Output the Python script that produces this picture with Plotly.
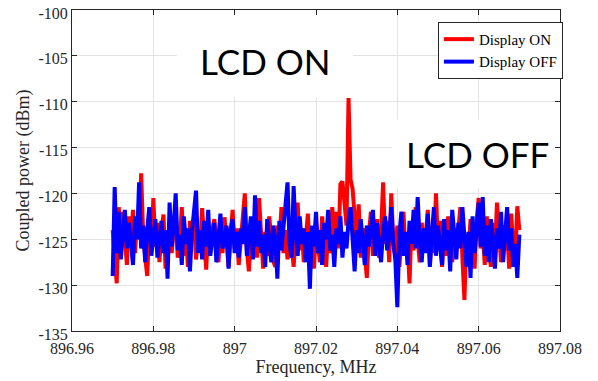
import numpy as np
import plotly.graph_objects as go

freq_start = 896.97
freq_stop = 897.07

display_on = [
    -124.0, -127.5, -129.8, -121.5, -126.0, -122.0, -125.5, -127.8, -122.5, -124.8,
    -121.8, -126.5, -123.0, -125.0, -117.8, -124.5, -127.0, -129.0, -123.5, -126.2,
    -120.5, -125.8, -123.2, -127.5, -124.0, -122.3, -128.2, -125.0, -123.8, -126.5,
    -124.2, -122.0, -127.0, -125.5, -121.5, -126.8, -124.0, -128.0, -123.0, -125.2,
    -122.5, -127.2, -124.8, -126.0, -121.6, -125.0, -128.3, -123.5, -126.2, -124.0,
    -122.8, -125.8, -127.5, -124.2, -126.5, -122.6, -125.3, -128.0, -124.5, -121.8,
    -126.0, -123.8, -127.8, -125.0, -122.0, -120.0, -126.2, -128.5, -124.0, -125.8,
    -123.0, -127.0, -120.5, -125.5, -128.2, -124.2, -126.8, -122.5, -125.0, -127.4,
    -128.0, -123.5, -125.8, -121.5, -126.5, -124.0, -127.2, -122.8, -125.5, -128.0,
    -124.5, -121.0, -126.2, -123.8, -127.5, -125.0, -122.2, -126.8, -124.2, -128.2,
    -123.0, -125.8, -127.5, -122.5, -125.2, -128.0, -123.8, -126.5, -121.5, -124.8,
    -122.0, -126.0, -119.0, -118.7, -121.0, -123.5, -109.6, -118.5, -119.5, -123.0,
    -125.5, -121.2, -127.0, -123.8, -126.0, -129.2, -124.5, -122.0, -126.8, -125.0,
    -122.8, -127.0, -124.2, -118.8, -125.5, -123.0, -127.5, -120.0, -125.0, -126.8,
    -123.5, -128.0, -124.8, -122.0, -126.5, -125.2, -129.8, -123.0, -126.2, -121.5,
    -125.0, -127.5, -123.2, -126.0, -124.5, -121.8, -127.8, -124.0, -126.5, -120.0,
    -125.5, -123.0, -128.0, -124.2, -126.8, -122.5, -125.0, -127.5, -123.8, -126.2,
    -124.0, -121.5, -127.0, -131.6, -124.5, -126.5, -122.8, -125.8, -128.2, -123.0,
    -120.5, -126.0, -124.2, -127.8, -122.5, -125.5, -128.0, -123.2, -126.5, -121.0,
    -125.0, -127.5, -123.5, -126.2, -124.0, -128.2, -122.2, -125.8, -127.0, -121.4,
    -124.0,
]

display_off = [
    -129.0, -119.3, -126.5, -122.0, -127.2, -124.5, -121.8, -126.0, -123.2, -125.5,
    -127.8, -122.5, -125.0, -118.8, -126.0, -123.5, -127.5, -124.0, -121.5, -126.8,
    -124.2, -122.8, -127.0, -125.2, -123.0, -126.5, -124.0, -129.3, -121.0, -125.8,
    -123.5, -120.0, -126.2, -124.5, -127.8, -122.5, -125.5, -123.8, -128.5, -124.2,
    -122.0, -119.7, -126.5, -124.0, -127.2, -123.0, -125.8, -121.8, -126.8, -124.5,
    -123.2, -127.5, -124.8, -122.2, -126.0, -125.2, -123.5, -128.2, -124.0, -122.8,
    -126.5, -124.2, -127.0, -123.8, -125.5, -121.5, -126.8, -124.5, -122.5, -127.2,
    -120.2, -125.8, -123.0, -126.5, -124.5, -128.0, -122.8, -125.2, -127.5, -123.5,
    -125.0, -129.3, -123.0, -126.2, -124.0, -121.2, -118.8, -125.5, -127.0, -119.2,
    -124.5, -126.8, -122.5, -125.5, -123.8, -127.5, -124.2, -130.4, -123.5, -125.8,
    -122.0, -126.5, -124.0, -127.8, -123.2, -125.0, -121.8, -126.2, -124.5, -128.0,
    -123.8, -125.5, -122.5, -127.0, -124.2, -126.0, -123.0, -121.5, -125.8, -128.5,
    -124.0, -126.5, -122.8, -125.2, -127.8, -123.5, -125.8, -124.0, -121.8, -126.8,
    -123.2, -125.5, -127.5, -124.0, -122.5, -126.2, -124.8, -121.5, -125.5, -127.2,
    -132.4, -124.5, -122.0, -126.8, -124.2, -127.8, -123.0, -125.5, -121.8, -126.0,
    -120.4, -125.2, -127.5, -123.8, -126.5, -122.2, -128.0, -124.5, -121.5, -126.8,
    -123.5, -125.8, -127.8, -122.8, -126.2, -124.0, -128.5, -121.8, -125.0, -127.2,
    -123.2, -126.0, -121.5, -125.5, -128.0, -124.2, -129.2, -122.5, -126.5, -124.0,
    -121.0, -125.8, -120.4, -126.8, -123.5, -127.5, -122.8, -125.2, -128.2, -123.8,
    -126.0, -122.0, -127.5, -124.5, -121.5, -126.2, -123.8, -128.0, -125.5, -129.2,
    -124.5,
]

x_tick_vals = [896.96, 896.98, 897.0, 897.02, 897.04, 897.06, 897.08]
x_tick_text = ["896.96", "896.98", "897", "897.02", "897.04", "897.06", "897.08"]
y_tick_vals = [-135, -130, -125, -120, -115, -110, -105, -100]
y_tick_text = ["-135", "-130", "-125", "-120", "-115", "-110", "-105", "-100"]

freqs_on = np.linspace(freq_start, freq_stop, len(display_on))
freqs_off = np.linspace(freq_start, freq_stop, len(display_off))

serif = "Liberation Serif, Times New Roman, serif"
sans = "Lato, Open Sans, sans-serif"

fig = go.Figure()
fig.add_trace(go.Scatter(x=freqs_on, y=display_on, mode="lines", name="Display ON",
                         line=dict(color="#ff0000", width=4)))
fig.add_trace(go.Scatter(x=freqs_off, y=display_off, mode="lines", name="Display OFF",
                         line=dict(color="#0000ff", width=4)))

axis_common = dict(showline=True, linecolor="#262626", linewidth=1, mirror="ticks",
                   ticks="inside", ticklen=5, tickcolor="#262626",
                   showgrid=True, gridcolor="#e3e3e3", gridwidth=1, zeroline=False,
                   automargin=False,
                   tickfont=dict(family=serif, size=16, color="#262626"))

fig.update_layout(
    width=598, height=381,
    margin=dict(l=72, r=38, t=10, b=50, autoexpand=False),
    paper_bgcolor="white", plot_bgcolor="white",
    showlegend=True,
    legend=dict(x=1.006, y=0.963, xanchor="right", yanchor="top",
                bgcolor="white", bordercolor="#262626", borderwidth=1,
                font=dict(family=serif, size=15, color="#000000"),
                tracegroupgap=0, itemwidth=30),
    xaxis=dict(range=[896.96, 897.08], tickvals=x_tick_vals, ticktext=x_tick_text,
               ticklabelstandoff=3,
               title=dict(text="Frequency, MHz", font=dict(family=serif, size=18, color="#262626"),
                          standoff=0),
               **axis_common),
    yaxis=dict(range=[-135, -100], tickvals=y_tick_vals, ticktext=y_tick_text,
               ticklabelshift=3,
               title=dict(text="Coupled power (dBm)", font=dict(family=serif, size=18, color="#262626"),
                          standoff=4),
               **axis_common),
    shapes=[
        dict(type="rect", xref="x", yref="y", x0=896.9858, x1=897.0291, y0=-109.6, y1=-100,
             fillcolor="white", line=dict(width=0), layer="between"),
        dict(type="rect", xref="x", yref="y", x0=897.0387, x1=897.08, y0=-119.5, y1=-111.9,
             fillcolor="white", line=dict(width=0), layer="between"),
    ],
    annotations=[
        dict(text="LCD ON", x=897.0076, y=-105.6, xref="x", yref="y", showarrow=False,
             font=dict(family=sans, size=35, color="#000000")),
        dict(text="LCD OFF", x=897.0596, y=-115.7, xref="x", yref="y", showarrow=False,
             font=dict(family=sans, size=35, color="#000000")),
    ],
)

fig.write_html("out.html", config={"displayModeBar": False},
               post_script="document.body.style.margin='0';")
